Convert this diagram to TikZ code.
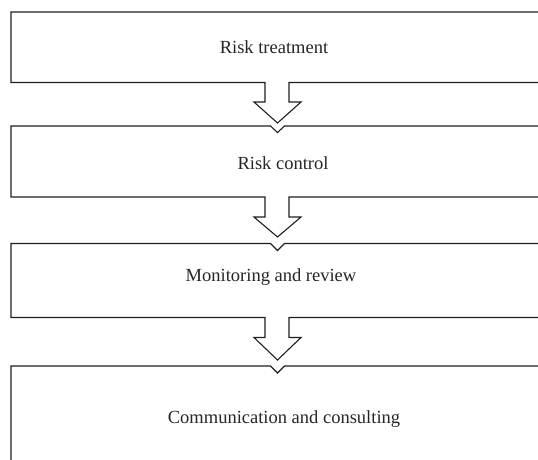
\documentclass[tikz,border=0pt]{standalone}
\usepackage{fontspec}
\setmainfont{Liberation Serif}
\begin{document}
\begin{tikzpicture}[x=1pt,y=-1pt,
  outline/.style={draw=black!88,line width=1.1pt,line join=miter},
  lbl/.style={font=\fontsize{18.5}{22}\selectfont,text=black!85,anchor=base,inner sep=0pt}]
\useasboundingbox (0,0) rectangle (538,459);
\clip (0,0) rectangle (538,459);
\fill[white] (0,0) rectangle (538,459);
% labels
\node[lbl] (b1) at (274,53) {Risk treatment};
\node[lbl] (b2) at (283,169) {Risk control};
\node[lbl] (b3) at (271,281) {Monitoring and review};
\node[lbl] (b4) at (284,423) {Communication and consulting};
% box 1 with arrow
\draw[outline] (560,12) -- (11,12) -- (11,82.5) -- (265,82.5) -- (265,102) -- (254,102)
  -- (277.5,123) -- (301,102) -- (289,102) -- (289,82.5) -- (560,82.5);
% box 2 with notch and arrow
\draw[outline] (560,126) -- (284.5,126) -- (277.5,132.5) -- (270.5,126) -- (11,126)
  -- (11,197) -- (265,197) -- (265,217) -- (254,217) -- (277.5,237) -- (301,217)
  -- (289,217) -- (289,197) -- (560,197);
% box 3
\draw[outline] (560,243.5) -- (284.5,243.5) -- (277.5,250.5) -- (270.5,243.5) -- (11,243.5)
  -- (11,317.5) -- (265,317.5) -- (265,337.5) -- (254,337.5) -- (277.5,360) -- (301,337.5)
  -- (289,337.5) -- (289,317.5) -- (560,317.5);
% box 4
\draw[outline] (560,366) -- (284.5,366) -- (277.5,373) -- (270.5,366) -- (11,366) -- (11,470);
\end{tikzpicture}
\end{document}
